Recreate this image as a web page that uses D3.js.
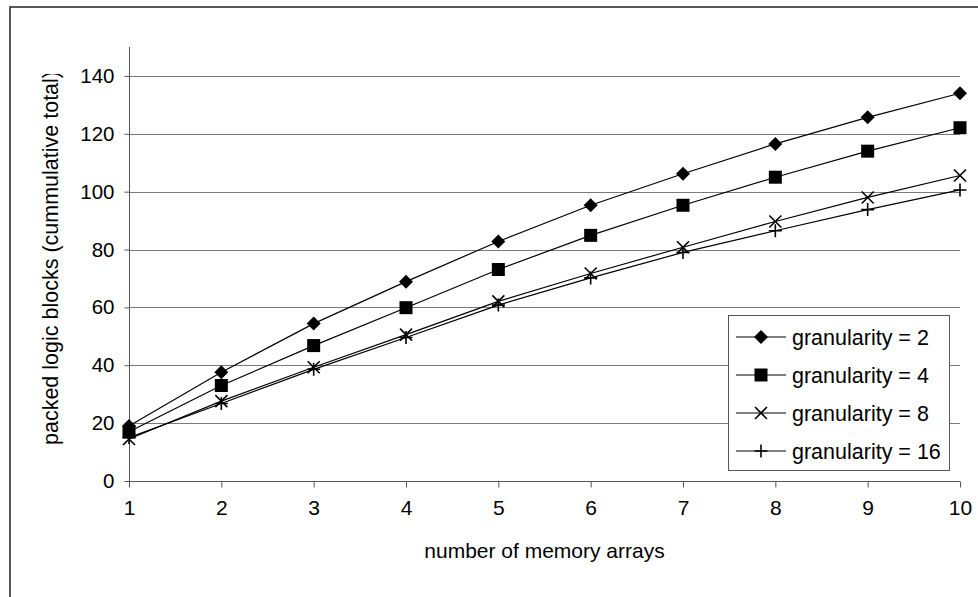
<!DOCTYPE html>
<html>
<head>
<meta charset="utf-8">
<script src="https://cdn.jsdelivr.net/npm/d3@7"></script>
<style>
  html, body { margin: 0; padding: 0; background: #fff; }
  svg { display: block; font-family: "Liberation Sans", Arial, sans-serif; }
</style>
</head>
<body>
<svg id="chart" width="978" height="597"></svg>
<script>
const categories = [1, 2, 3, 4, 5, 6, 7, 8, 9, 10];
const gran2  = [19, 37.6, 54.4, 68.9, 82.8, 95.3, 106.2, 116.5, 125.7, 134];
const gran4  = [17, 33, 46.8, 59.9, 73.1, 84.9, 95.3, 105, 114, 122.1];
const gran8  = [14.5, 27.6, 39.3, 50.6, 62.1, 71.7, 80.8, 89.7, 98, 105.6];
const gran16 = [15, 26.8, 38.6, 49.6, 60.8, 70.2, 79, 86.5, 93.8, 100.6];
const seriesNames = ["granularity = 2", "granularity = 4", "granularity = 8", "granularity = 16"];
const yTicks = [0, 20, 40, 60, 80, 100, 120, 140];

const series = [
  { name: seriesNames[0], values: gran2,  marker: "diamond" },
  { name: seriesNames[1], values: gran4,  marker: "square" },
  { name: seriesNames[2], values: gran8,  marker: "x" },
  { name: seriesNames[3], values: gran16, marker: "plus" }
];

const svg = d3.select("#chart");
const pLeft = 129, pRight = 960, pTop = 47, pBottom = 481;

const x = d3.scaleLinear().domain([1, 10]).range([pLeft, pRight]);
const y = d3.scaleLinear().domain([0, 150]).range([pBottom, pTop]);

// outer frame
svg.append("rect").attr("x", 10).attr("y", 7).attr("width", 1000).attr("height", 700)
  .attr("fill", "#fff").attr("stroke", "#222").attr("stroke-width", 1.5);

// gridlines
svg.append("g").selectAll("line").data(yTicks.filter(d => d > 0)).join("line")
  .attr("x1", pLeft).attr("x2", pRight)
  .attr("y1", d => Math.round(y(d)) + 0.5).attr("y2", d => Math.round(y(d)) + 0.5)
  .attr("stroke", "#7a7a7a").attr("stroke-width", 1);

// y axis
const yAxis = d3.axisLeft(y).tickValues(yTicks).tickSize(5).tickPadding(10).tickFormat(d3.format("d"));
const gy = svg.append("g").attr("transform", `translate(${pLeft + 0.5},0)`).call(yAxis);
gy.select(".domain").attr("d", `M0,${y(150)}V${pBottom}`).attr("stroke", "#555");
gy.selectAll(".tick line").attr("stroke", "#555");
gy.selectAll(".tick text").attr("font-size", 20.5).attr("fill", "#000")
  .attr("font-family", "'Liberation Sans', Arial, sans-serif");

// x axis
const xAxis = d3.axisBottom(x).tickValues(categories).tickSize(6).tickPadding(13).tickFormat(d3.format("d"));
const gx = svg.append("g").attr("transform", `translate(0,${pBottom + 0.5})`).call(xAxis);
gx.select(".domain").attr("d", `M${pLeft},0H${pRight}`).attr("stroke", "#555");
gx.selectAll(".tick line").attr("stroke", "#555");
gx.selectAll(".tick text").attr("font-size", 21).attr("fill", "#000")
  .attr("font-family", "'Liberation Sans', Arial, sans-serif");

// axis titles
svg.append("text").attr("x", (pLeft + pRight) / 2).attr("y", 558)
  .attr("text-anchor", "middle").attr("font-size", 21).text("number of memory arrays");

svg.append("clipPath").attr("id", "yclip").append("rect")
  .attr("x", 0).attr("y", 74).attr("width", 120).attr("height", 500);
svg.append("g").attr("clip-path", "url(#yclip)")
  .append("text")
  .attr("transform", "translate(58,258) rotate(-90)")
  .attr("text-anchor", "middle").attr("font-size", 21.5)
  .text("packed logic blocks (cummulative total)");

// marker drawing
function drawMarker(g, type, cx, cy) {
  if (type === "diamond") {
    g.append("path").attr("d", `M${cx},${cy - 7}L${cx + 7},${cy}L${cx},${cy + 7}L${cx - 7},${cy}Z`).attr("fill", "#000");
  } else if (type === "square") {
    g.append("rect").attr("x", cx - 6.5).attr("y", cy - 6.5).attr("width", 13).attr("height", 13).attr("fill", "#000");
  } else if (type === "x") {
    g.append("path").attr("d", `M${cx - 6},${cy - 6}L${cx + 6},${cy + 6}M${cx + 6},${cy - 6}L${cx - 6},${cy + 6}`)
      .attr("stroke", "#000").attr("stroke-width", 1.6).attr("fill", "none");
  } else if (type === "plus") {
    g.append("path").attr("d", `M${cx - 6.5},${cy}L${cx + 6.5},${cy}M${cx},${cy - 6.5}L${cx},${cy + 6.5}`)
      .attr("stroke", "#000").attr("stroke-width", 1.6).attr("fill", "none");
  }
}

const line = d3.line().x((d, i) => x(categories[i])).y(d => y(d));
const plot = svg.append("g");
series.forEach(s => {
  plot.append("path").datum(s.values).attr("d", line)
    .attr("fill", "none").attr("stroke", "#000").attr("stroke-width", 1.2);
});
series.forEach(s => {
  const g = plot.append("g");
  s.values.forEach((v, i) => drawMarker(g, s.marker, x(categories[i]), y(v)));
});

// legend
const lg = svg.append("g");
lg.append("rect").attr("x", 728.5).attr("y", 315.5).attr("width", 221).attr("height", 155)
  .attr("fill", "#fff").attr("stroke", "#555").attr("stroke-width", 1);
series.forEach((s, i) => {
  const cy = 337 + i * 38;
  lg.append("line").attr("x1", 736).attr("x2", 786).attr("y1", cy).attr("y2", cy)
    .attr("stroke", "#000").attr("stroke-width", 1.2);
  drawMarker(lg, s.marker, 761, cy);
  lg.append("text").attr("x", 792).attr("y", cy).attr("dy", "0.35em")
    .attr("font-size", 21.5).text(s.name);
});
</script>
</body>
</html>
